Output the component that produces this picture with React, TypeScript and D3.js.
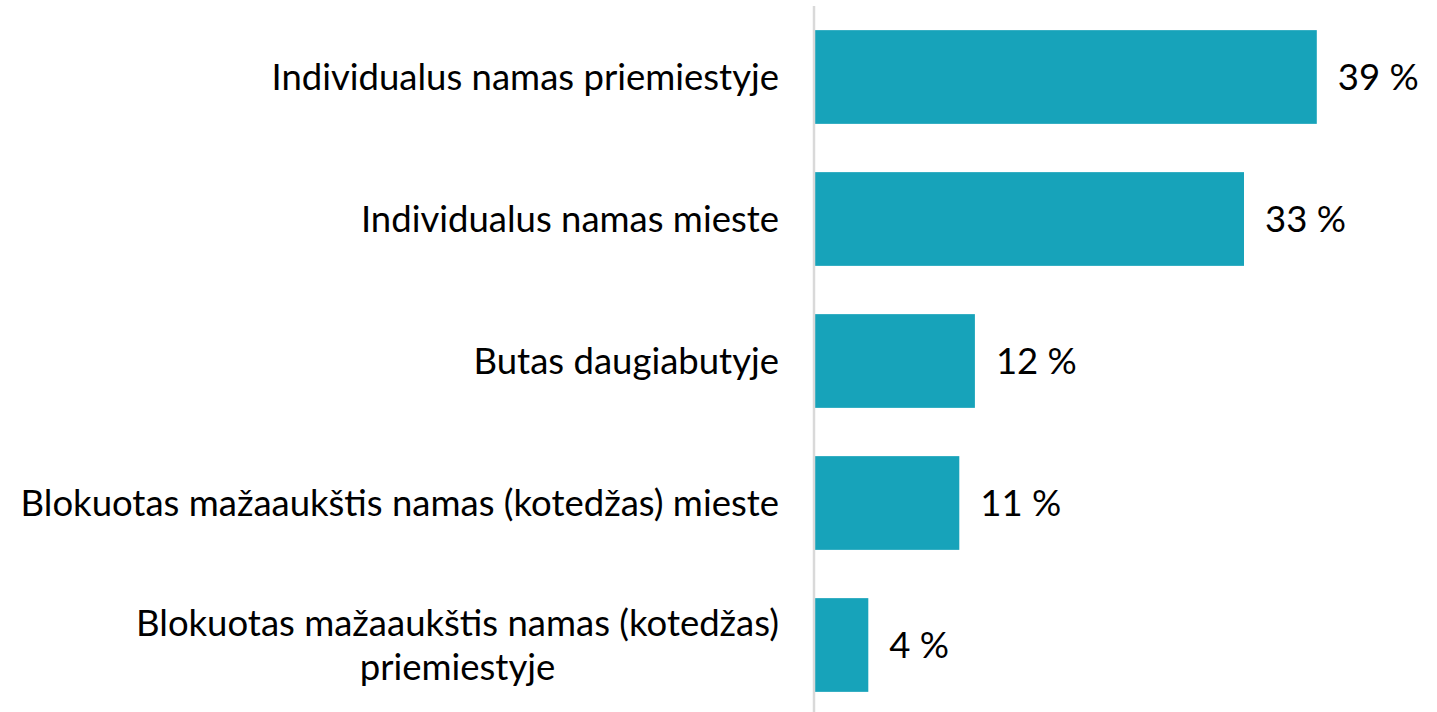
import React, { useEffect, useRef } from "react";
import * as d3 from "d3";

const categories: string[][] = [
  ["Individualus namas priemiestyje"],
  ["Individualus namas mieste"],
  ["Butas daugiabutyje"],
  ["Blokuotas mažaaukštis namas (kotedžas) mieste"],
  ["Blokuotas mažaaukštis namas (kotedžas)", "priemiestyje"],
];
const values: number[] = [38.6, 33.0, 12.3, 11.1, 4.1];
const valueLabels: string[] = ["39 %", "33 %", "12 %", "11 %", "4 %"];

const W = 1437;
const H = 712;
const FONT = "Lato, 'Open Sans', sans-serif";
const FS = 36.5;

export default function App() {
  const ref = useRef<SVGSVGElement | null>(null);

  useEffect(() => {
    const svg = d3.select(ref.current);
    svg.selectAll("*").remove();

    const x0 = 815;
    const x = d3.scaleLinear().domain([0, 10]).range([x0, x0 + 130]);
    const idx = categories.map((_, i) => i);
    const y = d3
      .scaleBand<number>()
      .domain(idx)
      .range([6, 716])
      .paddingInner(0.34)
      .paddingOuter(0.17);

    svg
      .append("g")
      .selectAll("rect")
      .data(idx)
      .join("rect")
      .attr("x", x(0))
      .attr("y", (i) => y(i)!)
      .attr("width", (i) => x(values[i]) - x(0))
      .attr("height", y.bandwidth())
      .attr("fill", "#17a3ba");

    svg
      .append("line")
      .attr("x1", x0 - 1)
      .attr("x2", x0 - 1)
      .attr("y1", 6)
      .attr("y2", H)
      .attr("stroke", "#d9d9d9")
      .attr("stroke-width", 2.5);

    // value labels
    svg
      .append("g")
      .selectAll("text")
      .data(idx)
      .join("text")
      .attr("x", (i) => x(values[i]) + 21)
      .attr("y", (i) => y(i)! + y.bandwidth() / 2)
      .attr("dy", "0.35em")
      .attr("font-family", FONT)
      .attr("font-size", FS)
      .attr("fill", "#000")
      .text((i) => valueLabels[i]);

    // category labels
    const labelRight = 779;
    const lineH = 44;
    idx.forEach((i) => {
      const lines = categories[i];
      const cy = y(i)! + y.bandwidth() / 2;
      const g = svg.append("g");
      const texts = lines.map((ln, k) =>
        g
          .append("text")
          .attr("y", cy + (k - (lines.length - 1) / 2) * lineH)
          .attr("dy", "0.35em")
          .attr("font-family", FONT)
          .attr("font-size", FS)
          .attr("fill", "#000")
          .text(ln)
      );
      if (lines.length === 1) {
        texts[0].attr("x", labelRight).attr("text-anchor", "end");
      } else {
        const widths = texts.map((t) => (t.node() as SVGTextElement).getComputedTextLength());
        const maxW = Math.max(...widths);
        const cx = labelRight - maxW / 2;
        texts.forEach((t) => t.attr("x", cx).attr("text-anchor", "middle"));
      }
    });
  }, []);

  return (
    <svg
      ref={ref}
      width={W}
      height={H}
      style={{ position: "absolute", left: 0, top: 0, background: "#fff" }}
    />
  );
}
